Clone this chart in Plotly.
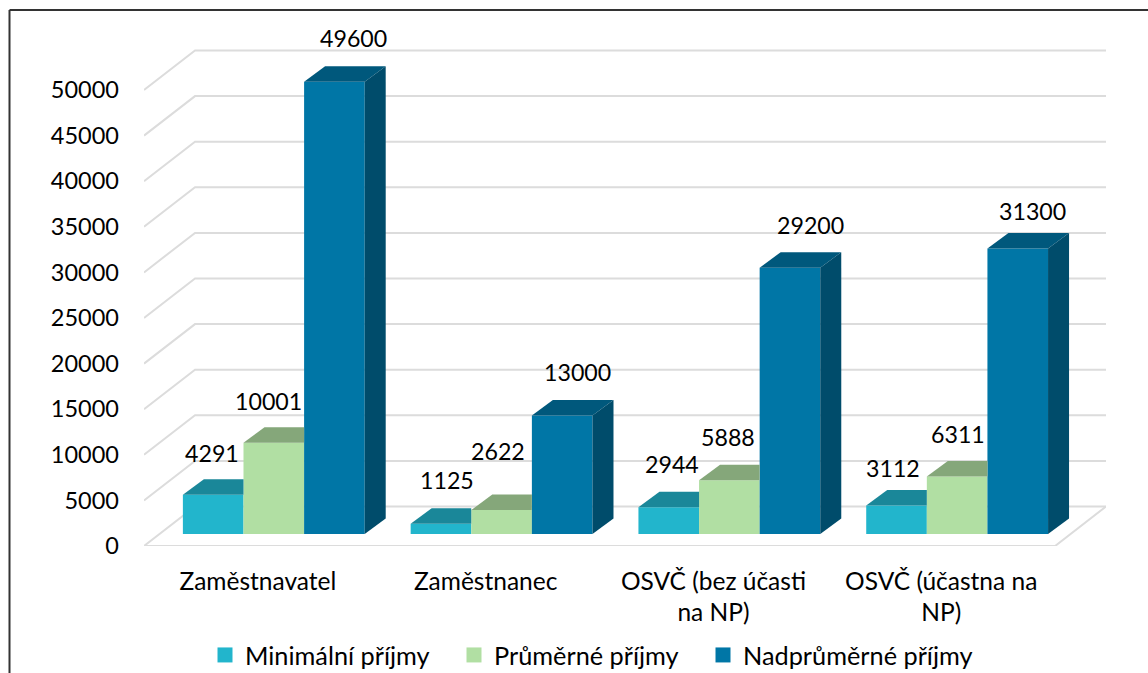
import plotly.graph_objects as go

# ---- data ----
categories = [0, 1, 2, 3]
tick_labels = ["Zaměstnavatel", "Zaměstnanec", "OSVČ (bez účasti<br>na NP)", "OSVČ (účastna na<br>NP)"]
minimalni = [4291, 1125, 2944, 3112]
prumerne = [10001, 2622, 5888, 6311]
nadprumerne = [49600, 13000, 29200, 31300]
y_ticks = [0, 5000, 10000, 15000, 20000, 25000, 30000, 35000, 40000, 45000, 50000]

# ---- style / geometry ----
# the figure is a little taller than the window (the page clips the surplus)
# so that the legend does not push the bottom margin
W, H = 1148, 720
L, R, T, B = 144, 1106, 40, 546
PX_PER_CAT = 227.75
PX_PER_UNIT = 456 / 50000
def cx(px): return px / PX_PER_CAT
def uy(px): return px / PX_PER_UNIT

BAR_W = cx(60.6)
BAR_START = cx(183 - 258)
BAR_DX, BAR_DY = cx(21), uy(15.5)
WALL_DX, WALL_DY = cx(51), uy(39.5)
X0 = -0.5
X_FRONT_R = 3.5
X_MAX = cx(R - 258)
Y_MAX = uy(B - T)
GRID = "#dcdcdc"
FONT = "Lato"
series = [
    ("Minimální příjmy", minimalni, "#22B5CC", "#1A8799", 204),
    ("Průměrné příjmy", prumerne, "#B1DFA3", "#85A77A", 204),
    ("Nadprůměrné příjmy", nadprumerne, "#0076A6", "#00587C", 230),
]
SIDE = "#004C6B"
# manual label nudges (px): per series, per category
label_dx = [[-1, 6, 3, -4], [-5, -4, -1, 1], [19, 15, 21, 15]]
label_dy = [[42, 44, 43, 38], [42, 59, 43, 42], [44, 43, 43, 38]]

fig = go.Figure()

# back wall and side wall grid lines
for v in y_ticks:
    fig.add_trace(go.Scatter(
        x=[X0, X0 + WALL_DX, X_MAX], y=[v, v + WALL_DY, v + WALL_DY],
        mode="lines", line=dict(color=GRID, width=2), showlegend=False, hoverinfo="skip"))
fig.add_trace(go.Scatter(
    x=[X_MAX, X_FRONT_R, X0], y=[WALL_DY, 0, 0],
    mode="lines", line=dict(color=GRID, width=2), showlegend=False, hoverinfo="skip"))

# bars (front faces) on the overlaid axis whose zero sits on the bars' foot
for k, (name, vals, col, top, lw) in enumerate(series):
    fig.add_trace(go.Bar(
        x=categories, y=vals, width=BAR_W, offset=BAR_START + k * BAR_W,
        marker=dict(color=col, line=dict(width=0)), yaxis="y2", showlegend=False,
        name=name))

# top faces and right side faces
for k, (name, vals, col, top, lw) in enumerate(series):
    for c, v in zip(categories, vals):
        x0 = c + BAR_START + k * BAR_W
        x1 = x0 + BAR_W
        xr = x1 + BAR_DX if k == 2 else x1
        fig.add_trace(go.Scatter(
            x=[x0, x0 + BAR_DX, xr, x1, x0], y=[v, v + BAR_DY, v + BAR_DY, v, v],
            mode="lines", fill="toself", fillcolor=top, line=dict(width=0),
            yaxis="y2", showlegend=False, hoverinfo="skip"))
        if k == 2:
            fig.add_trace(go.Scatter(
                x=[x1, xr, xr, x1, x1], y=[0, BAR_DY, v + BAR_DY, v, 0],
                mode="lines", fill="toself", fillcolor=SIDE, line=dict(width=0),
                yaxis="y2", showlegend=False, hoverinfo="skip"))

# legend entries
for name, vals, col, top, lw in series:
    fig.add_trace(go.Scatter(
        x=[None], y=[None], mode="markers", name=name, legendwidth=lw,
        marker=dict(symbol="square", size=15, color=col), yaxis="y2"))

# data labels
annotations = []
for k, (name, vals, col, top, lw) in enumerate(series):
    for c, v in zip(categories, vals):
        annotations.append(dict(
            x=c + BAR_START + (k + 0.5) * BAR_W, y=v, xref="x", yref="y2",
            text=str(v), showarrow=False, xanchor="center", yanchor="middle",
            xshift=label_dx[k][c], yshift=label_dy[k][c],
            font=dict(family=FONT, size=23.2, color="#000000")))

fig.update_layout(
    width=W, height=H, autosize=False,
    margin=dict(l=L, r=W - R, t=T, b=H - B, pad=0),
    paper_bgcolor="white", plot_bgcolor="white",
    barmode="overlay",
    font=dict(family=FONT, size=23.2, color="#000000"),
    xaxis=dict(range=[X0, X_MAX], tickmode="array", tickvals=categories, ticktext=tick_labels,
               showgrid=False, zeroline=False, showline=False, ticks="", ticklabelstandoff=18,
               tickfont=dict(family=FONT, size=24.5, color="#000000"), fixedrange=True),
    yaxis=dict(range=[0, Y_MAX], tickmode="array", tickvals=y_ticks, showgrid=False, zeroline=False,
               showline=False, ticks="", ticklabelstandoff=24, tickformat="d",
               tickfont=dict(family=FONT, size=23.5, color="#000000"), fixedrange=True),
    yaxis2=dict(range=[-uy(12), Y_MAX - uy(12)], overlaying="y", visible=False, fixedrange=True),
    legend=dict(orientation="h", x=(205 - L) / (R - L), xanchor="left",
                y=(B - 655) / (B - T), yanchor="middle",
                xref="paper", yref="paper",
                font=dict(family=FONT, size=25.3, color="#000000"), traceorder="normal",
                bgcolor="rgba(0,0,0,0)"),
    annotations=annotations,
    showlegend=True,
    # picture frame: top and left edges
    shapes=[
        dict(type="line", xref="paper", yref="paper",
             x0=(9.5 - L) / (R - L), x1=(W - L) / (R - L),
             y0=(B - 10) / (B - T), y1=(B - 10) / (B - T),
             line=dict(color="#333333", width=2)),
        dict(type="line", xref="paper", yref="paper",
             x0=(9.5 - L) / (R - L), x1=(9.5 - L) / (R - L),
             y0=(B - 10) / (B - T), y1=(B - H) / (B - T),
             line=dict(color="#333333", width=2)),
    ],
)
fig.write_html("out.html", config=dict(displayModeBar=False),
               post_script="document.documentElement.style.overflow='hidden';document.body.style.margin='0';document.body.style.overflow='hidden';")
